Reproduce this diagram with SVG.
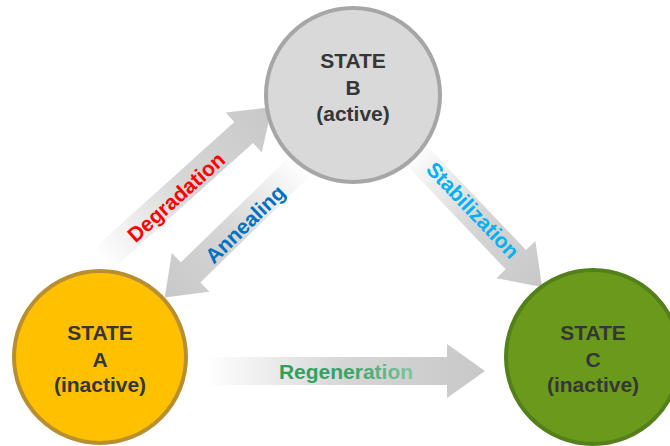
<svg xmlns="http://www.w3.org/2000/svg" width="670" height="446" viewBox="0 0 670 446">
<defs>
<linearGradient id="arrowGrad" x1="0" y1="0" x2="1" y2="0">
<stop offset="0" stop-color="#ffffff"/>
<stop offset="0.5" stop-color="#d6d6d6"/>
<stop offset="1" stop-color="#c8c8c8"/>
</linearGradient>
<linearGradient id="regenText" x1="0" y1="0" x2="1" y2="0">
<stop offset="0" stop-color="#2f9e5c"/>
<stop offset="0.55" stop-color="#3aa466"/>
<stop offset="1" stop-color="#86c3a0"/>
</linearGradient>
</defs>
<style>
.arrow { fill: url(#arrowGrad); }
.lbl { font-family: "Liberation Sans", Arial, sans-serif; font-weight: bold; font-size: 21px; text-anchor: middle; dominant-baseline: central; }
.state { font-family: "Liberation Sans", Arial, sans-serif; font-weight: bold; font-size: 21px; text-anchor: middle; fill: #363636; }
</style>
<rect width="670" height="446" fill="#ffffff"/>
<g id="connectors">
<g id="degradation">
<path class="arrow" transform="translate(101,261) rotate(-42)" d="M0,-14 H192 V-27 L230,0 L192,27 V14 H0 Z"/>
<text class="lbl" fill="#ff0000" transform="translate(176,197) rotate(-42)">Degradation</text>
</g>
<g id="annealing">
<path class="arrow" transform="translate(301,165) rotate(135.8)" d="M0,-14 H154 V-27 L190,0 L154,27 V14 H0 Z"/>
<text class="lbl" fill="#0070c0" transform="translate(245,224) rotate(-44.2)">Annealing</text>
</g>
<g id="stabilization">
<path class="arrow" transform="translate(411,149.5) rotate(46.4)" d="M0,-14 H152 V-27 L190,0 L152,27 V14 H0 Z"/>
<text class="lbl" fill="#00b0f0" transform="translate(473,210) rotate(46.4)">Stabilization</text>
</g>
<g id="regeneration">
<path class="arrow" transform="translate(205,371)" d="M0,-14 H242 V-27 L280,0 L242,27 V14 H0 Z"/>
<text class="lbl" fill="url(#regenText)" x="346" y="371">Regeneration</text>
</g>
</g>
<g id="stateB">
<circle cx="353" cy="95" r="87" fill="#d9d9d9" stroke="#a6a6a6" stroke-width="4"/>
<text class="state" x="353" y="68">STATE</text>
<text class="state" x="353" y="95">B</text>
<text class="state" x="353" y="121">(active)</text>
</g>
<g id="stateA">
<circle cx="100" cy="357" r="86" fill="#ffc000" stroke="#b88f30" stroke-width="4"/>
<text class="state" x="100" y="340">STATE</text>
<text class="state" x="100" y="367">A</text>
<text class="state" x="100" y="392">(inactive)</text>
</g>
<g id="stateC">
<circle cx="593" cy="357" r="87" fill="#6a9a1c" stroke="#54801c" stroke-width="4"/>
<text class="state" x="593" y="340">STATE</text>
<text class="state" x="593" y="367">C</text>
<text class="state" x="593" y="392">(inactive)</text>
</g>
</svg>
